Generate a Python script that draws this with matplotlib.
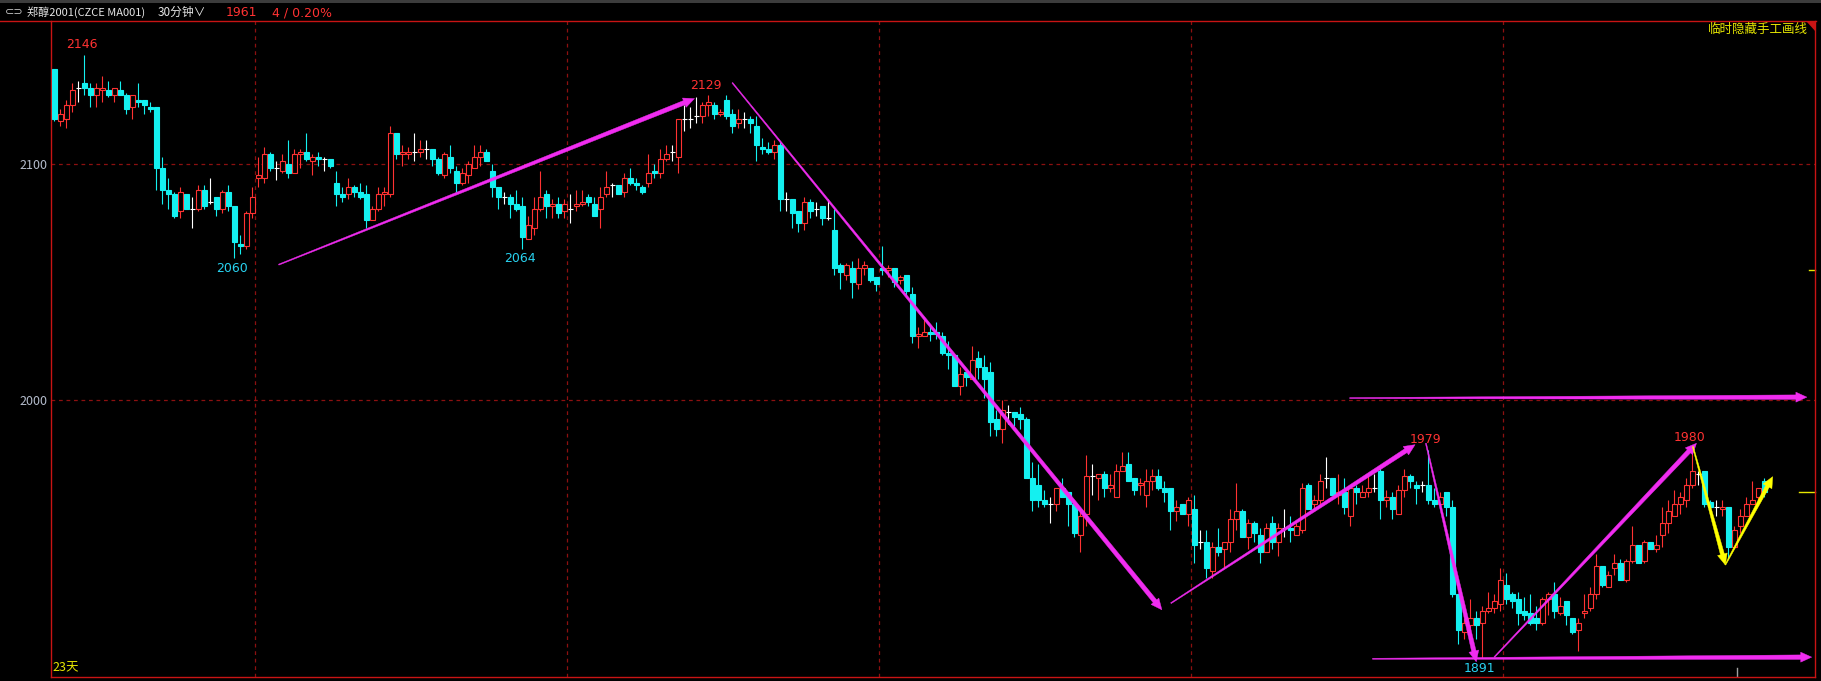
import numpy as np
import matplotlib
matplotlib.use("Agg")
import matplotlib.pyplot as plt
from matplotlib.collections import LineCollection
from matplotlib.patches import Polygon, Rectangle
from matplotlib.lines import Line2D

plt.rcParams['font.family'] = ['Noto Sans CJK SC', 'DejaVu Sans']

# 30-minute bars, MA001
opens = [2140, 2118, 2119, 2125, 2132, 2134, 2132, 2129, 2131, 2131,
         2129, 2131, 2129, 2124, 2127, 2127, 2124, 2124, 2098, 2089,
         2087, 2080, 2087, 2081, 2081, 2089, 2084, 2086, 2081, 2088,
         2082, 2066, 2065, 2079, 2094, 2094, 2104, 2098, 2097, 2100,
         2096, 2104, 2105, 2101, 2103, 2102, 2102, 2092, 2087, 2087,
         2090, 2088, 2087, 2076, 2081, 2087, 2087, 2113, 2104, 2104,
         2105, 2105, 2106, 2106, 2102, 2095, 2103, 2097, 2092, 2095,
         2098, 2103, 2105, 2097, 2090, 2086, 2086, 2083, 2082, 2068,
         2073, 2081, 2087, 2082, 2083, 2080, 2081, 2082, 2083, 2086,
         2083, 2081, 2087, 2091, 2091, 2088, 2094, 2092, 2090, 2092,
         2097, 2096, 2102, 2105, 2103, 2119, 2119, 2120, 2120, 2125,
         2125, 2121, 2127, 2121, 2117, 2119, 2119, 2116, 2107, 2106,
         2105, 2108, 2085, 2085, 2080, 2075, 2084, 2081, 2082, 2077,
         2072, 2057, 2053, 2056, 2049, 2056, 2056, 2052, 2056, 2055,
         2056, 2051, 2053, 2045, 2027, 2027, 2029, 2029, 2027, 2020,
         2019, 2006, 2012, 2009, 2018, 2014, 2012, 1992, 1988, 1995,
         1995, 1994, 1992, 1967, 1964, 1958, 1956, 1956, 1963, 1961,
         1956, 1943, 1952, 1968, 1967, 1969, 1963, 1959, 1970, 1973,
         1967, 1964, 1960, 1966, 1968, 1963, 1963, 1953, 1956, 1952,
         1954, 1940, 1940, 1928, 1938, 1937, 1940, 1950, 1953, 1942,
         1948, 1943, 1936, 1948, 1940, 1946, 1946, 1943, 1945, 1964,
         1956, 1958, 1967, 1967, 1960, 1961, 1951, 1963, 1959, 1961,
         1963, 1970, 1958, 1959, 1952, 1962, 1968, 1964, 1964, 1964,
         1958, 1956, 1961, 1955, 1918, 1902, 1905, 1908, 1906, 1911,
         1912, 1914, 1922, 1918, 1916, 1911, 1910, 1908, 1906, 1916,
         1918, 1910, 1915, 1908, 1903, 1910, 1912, 1918, 1930, 1921,
         1929, 1931, 1924, 1932, 1939, 1932, 1940, 1937, 1943, 1948,
         1951, 1956, 1958, 1964, 1969, 1970, 1957, 1955, 1954, 1955,
         1938, 1947, 1951, 1956, 1959, 1966]
highs = [2140, 2123, 2127, 2134, 2135, 2146, 2134, 2134, 2137, 2135,
         2132, 2135, 2130, 2129, 2134, 2127, 2126, 2124, 2103, 2094,
         2088, 2090, 2087, 2086, 2091, 2091, 2094, 2086, 2089, 2091,
         2082, 2070, 2080, 2090, 2103, 2107, 2105, 2101, 2104, 2110,
         2106, 2106, 2113, 2104, 2105, 2103, 2102, 2097, 2090, 2094,
         2091, 2092, 2091, 2082, 2090, 2090, 2116, 2113, 2108, 2107,
         2113, 2110, 2110, 2106, 2103, 2105, 2108, 2099, 2098, 2101,
         2108, 2108, 2106, 2100, 2090, 2088, 2087, 2089, 2086, 2078,
         2086, 2097, 2089, 2085, 2086, 2085, 2087, 2089, 2089, 2087,
         2086, 2090, 2097, 2092, 2091, 2096, 2098, 2094, 2091, 2104,
         2100, 2106, 2108, 2108, 2119, 2125, 2124, 2128, 2126, 2129,
         2126, 2123, 2129, 2123, 2123, 2122, 2120, 2120, 2111, 2109,
         2110, 2109, 2088, 2085, 2080, 2086, 2085, 2084, 2082, 2085,
         2081, 2058, 2058, 2059, 2060, 2059, 2056, 2052, 2065, 2057,
         2056, 2053, 2053, 2048, 2031, 2035, 2032, 2033, 2029, 2025,
         2019, 2014, 2012, 2023, 2021, 2019, 2016, 1996, 2000, 1998,
         1995, 1997, 1993, 1974, 1973, 1962, 1959, 1963, 1967, 1961,
         1956, 1953, 1977, 1973, 1969, 1970, 1969, 1973, 1978, 1978,
         1967, 1967, 1971, 1971, 1971, 1966, 1963, 1958, 1956, 1959,
         1960, 1945, 1945, 1940, 1946, 1940, 1954, 1965, 1954, 1950,
         1949, 1946, 1948, 1951, 1948, 1954, 1951, 1948, 1965, 1965,
         1960, 1969, 1976, 1967, 1969, 1967, 1964, 1964, 1964, 1968,
         1969, 1972, 1962, 1961, 1964, 1971, 1969, 1966, 1966, 1979,
         1963, 1961, 1961, 1958, 1918, 1908, 1916, 1911, 1913, 1919,
         1918, 1929, 1927, 1919, 1919, 1917, 1918, 1913, 1917, 1919,
         1923, 1917, 1915, 1908, 1908, 1918, 1921, 1935, 1930, 1928,
         1935, 1933, 1933, 1947, 1939, 1941, 1940, 1943, 1955, 1958,
         1962, 1961, 1967, 1980, 1970, 1970, 1958, 1958, 1958, 1955,
         1947, 1954, 1959, 1966, 1963, 1967]
lows = [2118, 2116, 2115, 2122, 2126, 2129, 2124, 2124, 2126, 2128,
        2126, 2129, 2121, 2119, 2124, 2121, 2122, 2089, 2083, 2081,
        2077, 2077, 2081, 2073, 2080, 2081, 2083, 2078, 2079, 2080,
        2060, 2062, 2064, 2077, 2090, 2092, 2097, 2093, 2096, 2094,
        2096, 2098, 2101, 2095, 2099, 2097, 2098, 2082, 2084, 2085,
        2086, 2085, 2073, 2076, 2080, 2082, 2086, 2102, 2099, 2102,
        2101, 2103, 2102, 2099, 2095, 2094, 2096, 2088, 2091, 2092,
        2098, 2099, 2101, 2086, 2081, 2083, 2077, 2080, 2064, 2068,
        2070, 2080, 2077, 2077, 2077, 2077, 2075, 2080, 2082, 2082,
        2078, 2073, 2086, 2086, 2087, 2086, 2091, 2089, 2087, 2090,
        2094, 2094, 2101, 2101, 2096, 2114, 2115, 2117, 2117, 2120,
        2119, 2120, 2119, 2113, 2115, 2115, 2113, 2101, 2104, 2104,
        2102, 2080, 2080, 2073, 2071, 2072, 2077, 2078, 2074, 2076,
        2053, 2047, 2051, 2043, 2047, 2053, 2050, 2046, 2053, 2052,
        2048, 2049, 2044, 2024, 2022, 2027, 2025, 2026, 2019, 2013,
        2006, 2002, 2006, 2009, 2009, 2001, 1985, 1985, 1982, 1990,
        1989, 1988, 1967, 1953, 1955, 1955, 1948, 1953, 1959, 1947,
        1942, 1936, 1947, 1960, 1958, 1959, 1961, 1959, 1970, 1966,
        1960, 1960, 1955, 1962, 1962, 1957, 1945, 1949, 1952, 1947,
        1931, 1937, 1925, 1925, 1934, 1929, 1936, 1945, 1942, 1937,
        1940, 1931, 1936, 1937, 1934, 1942, 1940, 1943, 1944, 1954,
        1953, 1955, 1963, 1960, 1956, 1952, 1947, 1956, 1959, 1959,
        1961, 1950, 1955, 1950, 1952, 1959, 1963, 1956, 1961, 1956,
        1955, 1955, 1951, 1917, 1897, 1899, 1902, 1899, 1891, 1910,
        1910, 1911, 1914, 1912, 1905, 1907, 1905, 1903, 1905, 1909,
        1908, 1909, 1905, 1901, 1894, 1908, 1911, 1916, 1921, 1921,
        1926, 1924, 1923, 1931, 1931, 1931, 1937, 1936, 1938, 1944,
        1951, 1952, 1955, 1963, 1964, 1955, 1954, 1951, 1951, 1933,
        1938, 1944, 1951, 1956, 1958, 1959]
closes = [2119, 2121, 2125, 2131, 2132, 2132, 2129, 2132, 2132, 2129,
          2132, 2129, 2123, 2129, 2126, 2125, 2123, 2098, 2089, 2087,
          2078, 2088, 2081, 2081, 2089, 2082, 2084, 2081, 2088, 2082,
          2067, 2065, 2079, 2086, 2095, 2104, 2098, 2098, 2101, 2096,
          2104, 2105, 2102, 2103, 2102, 2102, 2099, 2087, 2086, 2090,
          2088, 2086, 2076, 2081, 2087, 2088, 2113, 2104, 2105, 2105,
          2105, 2106, 2106, 2102, 2096, 2104, 2098, 2092, 2096, 2100,
          2103, 2105, 2101, 2090, 2086, 2086, 2083, 2081, 2069, 2074,
          2081, 2086, 2082, 2083, 2079, 2083, 2081, 2083, 2084, 2084,
          2078, 2086, 2090, 2091, 2087, 2094, 2092, 2091, 2088, 2096,
          2096, 2102, 2104, 2105, 2119, 2119, 2119, 2120, 2125, 2126,
          2121, 2122, 2120, 2116, 2119, 2119, 2117, 2108, 2106, 2105,
          2108, 2085, 2085, 2079, 2075, 2084, 2080, 2081, 2077, 2077,
          2056, 2054, 2057, 2050, 2056, 2057, 2051, 2049, 2055, 2056,
          2050, 2052, 2046, 2027, 2028, 2029, 2028, 2028, 2020, 2019,
          2006, 2011, 2010, 2017, 2014, 2009, 1991, 1988, 1996, 1995,
          1993, 1992, 1967, 1958, 1958, 1956, 1956, 1963, 1959, 1956,
          1944, 1951, 1968, 1968, 1969, 1963, 1964, 1970, 1972, 1966,
          1962, 1965, 1966, 1968, 1963, 1961, 1953, 1955, 1952, 1958,
          1939, 1940, 1929, 1938, 1936, 1940, 1950, 1953, 1942, 1948,
          1944, 1936, 1946, 1940, 1946, 1946, 1945, 1947, 1963, 1954,
          1958, 1966, 1967, 1960, 1961, 1955, 1963, 1961, 1961, 1963,
          1963, 1958, 1959, 1954, 1962, 1968, 1966, 1963, 1964, 1958,
          1956, 1959, 1955, 1918, 1903, 1906, 1908, 1905, 1911, 1912,
          1915, 1924, 1916, 1915, 1910, 1909, 1906, 1906, 1916, 1918,
          1911, 1913, 1909, 1902, 1906, 1911, 1918, 1930, 1922, 1926,
          1931, 1924, 1932, 1939, 1931, 1940, 1937, 1939, 1948, 1953,
          1956, 1959, 1964, 1970, 1969, 1956, 1955, 1955, 1955, 1938,
          1945, 1951, 1956, 1958, 1963, 1961]

# bar index where a new separator starts
session_starts = [34, 86, 138, 190, 242]
price_ticks = [2000, 2100]
# highs / lows that carry a label
high_labels = [5, 109, 229, 273]
low_labels = [30, 78, 238]

# hand-drawn lines: (bar index, price) start -> end
magenta_arrows = [
    ((37.4, 2057.3), (106.7, 2127.5)),
    ((113.0, 2134.2), (184.6, 1911.4)),
    ((186.1, 1914.2), (226.8, 1981.2)),
    ((228.6, 1981.8), (237.0, 1889.4)),
    ((240.0, 1891.4), (273.7, 1981.8)),
    ((215.9, 2000.9), (292.1, 2001.3)),
    ((219.7, 1890.7), (292.9, 1891.4)),
]
yellow_arrows = [
    ((273.1, 1980.4), (278.5, 1930.4)),
    ((278.5, 1930.4), (286.4, 1967.7)),
]
right_marks = [2055, 1961]

W, H = 1821, 681
RED = '#ff3232'
CYAN = '#14f0f0'
FRAME = '#c81414'
GRID = '#8c1010'

fig = plt.figure(figsize=(W / 100, H / 100), dpi=100, facecolor='black')
ax = fig.add_axes([51 / W, 1 - 677 / H, (1815 - 51) / W, (677 - 21) / H])
ax.set_facecolor('black')
ax.set_xlim(-0.55, 293.45)
ax.set_ylim(1883.0, 2160.3)

o = np.array(opens, float)
h = np.array(highs, float)
l = np.array(lows, float)
c = np.array(closes, float)
x = np.arange(len(o))
up = c > o
dn = c < o
fl = c == o

cols = np.where(up, RED, np.where(dn, CYAN, 'white'))
segs = [[(xi, lo), (xi, hi)] for xi, lo, hi in zip(x, l, h)]
ax.add_collection(LineCollection(segs, colors=cols, linewidths=0.8, zorder=2))

bw = 0.74
ax.bar(x[up], c[up] - o[up], bottom=o[up], width=bw, facecolor='black',
       edgecolor=RED, linewidth=0.8, zorder=3)
ax.bar(x[dn], o[dn] - c[dn], bottom=c[dn], width=bw, facecolor=CYAN,
       edgecolor=CYAN, linewidth=0.8, zorder=3)
ax.hlines(o[fl], x[fl] - bw / 2, x[fl] + bw / 2, colors='white', linewidth=0.8, zorder=3)

# grid
for p in price_ticks:
    ax.axhline(p, color=GRID, lw=0.9, dashes=(3, 3), zorder=1)
for s in session_starts:
    ax.axvline(s - 0.5, color=GRID, lw=0.9, dashes=(3, 3), zorder=1)

ax.spines['top'].set_visible(False)
for sp in ['left', 'right', 'bottom']:
    ax.spines[sp].set_color(FRAME)
    ax.spines[sp].set_linewidth(1.0)
ax.set_xticks([])
ax.set_yticks(price_ticks)
ax.set_yticklabels([str(p) for p in price_ticks])
ax.tick_params(axis='y', length=0, pad=2.5, labelsize=9, labelcolor='#b4bccc')

# high / low labels
for i in high_labels:
    ax.annotate(f"{highs[i]:d}", (i, highs[i]), xytext=(-2.5, 10), textcoords='offset pixels',
                ha='center', va='center', color=RED, fontsize=9, family='DejaVu Sans')
for i in low_labels:
    ax.annotate(f"{lows[i]:d}", (i, lows[i]), xytext=(-2.5, -10), textcoords='offset pixels',
                ha='center', va='center', color='#28d2f0', fontsize=9, family='DejaVu Sans')


def taper_arrow(p0, p1, color, w0=1.0, w1=4.5, hl=11, hw=10):
    t = ax.transData
    a = np.array(t.transform(p0))
    b = np.array(t.transform(p1))
    d = b - a
    u = d / np.hypot(*d)
    n = np.array([-u[1], u[0]])
    neck = b - u * hl
    pts = [a + n * w0 / 2, neck + n * w1 / 2, neck + n * hw / 2, b,
           neck - n * hw / 2, neck - n * w1 / 2, a - n * w0 / 2]
    poly = Polygon(t.inverted().transform(pts), closed=True, facecolor=color,
                   edgecolor=color, linewidth=0.3, zorder=5)
    ax.add_patch(poly)


for p0, p1 in magenta_arrows:
    taper_arrow(p0, p1, '#f02cf0')
for p0, p1 in yellow_arrows:
    taper_arrow(p0, p1, '#ffff00', w1=4.0)

# marks on the right edge
yt = ax.get_yaxis_transform()
ax.plot([0.9966, 1.0], [right_marks[0]] * 2, color='#e6e600', lw=1, transform=yt, clip_on=False)
ax.plot([0.9909, 1.0], [right_marks[1]] * 2, color='#e6e600', lw=1, transform=yt, clip_on=False)
ax.plot([280.5, 280.5], [0, 0.014], color='#a0a0a0', lw=1, transform=ax.get_xaxis_transform())

# header
fig.patches.append(Rectangle((0, 1 - 3 / H), 1, 3 / H, transform=fig.transFigure,
                             facecolor='#3c3c3c', edgecolor='none'))
fig.lines.append(Line2D([0, 1816 / W], [1 - 21 / H] * 2, transform=fig.transFigure,
                        color=FRAME, lw=1.0))
fig.patches.append(Polygon([(1807 / W, 1 - 21.5 / H), (1816 / W, 1 - 21.5 / H), (1816 / W, 1 - 32 / H)],
                           closed=True, transform=fig.transFigure, facecolor=FRAME, edgecolor='none'))
hy = 1 - 12.5 / H
fig.text(5 / W, hy, "⊂⊃", color='#c8c8c8', fontsize=8, va='center', family='DejaVu Sans')
fig.text(27 / W, hy, "郑醇2001(CZCE MA001)", color='#e6e6e6', fontsize=8, va='center')
fig.text(158 / W, hy, "30分钟∨", color='#e6e6e6', fontsize=8.5, va='center')
fig.text(226 / W, hy, f"{closes[-1]}", color=RED, fontsize=9, va='center', family='DejaVu Sans')
fig.text(272 / W, hy, "4 / 0.20%", color=RED, fontsize=9, va='center', family='DejaVu Sans')
fig.text(1808 / W, 1 - 29.5 / H, "临时隐藏手工画线", color='#e6e600', fontsize=9, ha='right', va='center')
fig.text(52 / W, 1 - 668 / H, "23天", color='#e6e600', fontsize=9, va='center')

fig.savefig("out.png", dpi=100, facecolor='black')
